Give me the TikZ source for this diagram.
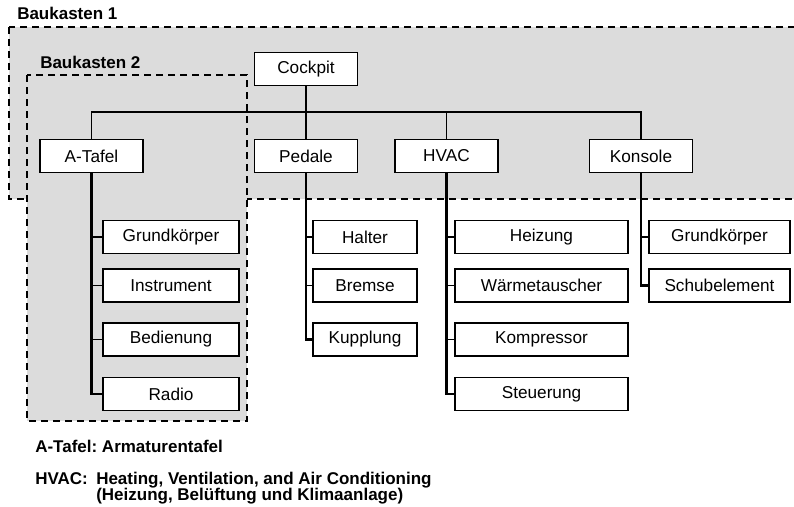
\documentclass[tikz,border=0pt]{standalone}
\usepackage{fontspec}
\setmainfont{Liberation Sans}
\definecolor{kitgray}{RGB}{220,220,220}
\frenchspacing
\begin{document}
\begin{tikzpicture}[x=0.75pt,y=-0.75pt,
  box/.style={draw=black,line width=1.1pt,fill=white,minimum height=24.75pt,
    inner sep=0pt,font=\fontsize{12.9}{15}\selectfont},
  lvtwo/.style={box,minimum width=77.25pt},
  kidA/.style={box,minimum width=102pt},
  kidP/.style={box,minimum width=78pt},
  kidH/.style={box,minimum width=129.75pt},
  kidK/.style={box,minimum width=105.75pt},
  kit/.style={fill=kitgray,draw=black,line width=1.5pt,dash pattern=on 5.25pt off 3.75pt},
  kitlabel/.style={anchor=base west,inner sep=0pt,font=\fontsize{12.75}{14}\bfseries\selectfont},
  note/.style={anchor=base west,inner sep=0pt,font=\fontsize{12.75}{14}\bfseries\selectfont},
  bus/.style={line width=0.8pt},
  spine/.style={line width=1.8pt},
  stub/.style={line width=1.1pt},
  trunk/.style={line width=2.2pt}]
\useasboundingbox (0,0) rectangle (794,507);
\clip (0,0) rectangle (794,507);

% module groups
\draw[kit] (9,27) rectangle (812,199);
\draw[kit] (27,75) rectangle (247,421);
\node[kitlabel] (bk1) at (17,19) {Baukasten 1};
\node[kitlabel] (bk2) at (40,68) {Baukasten 2};

% tree nodes
\node[lvtwo] (cockpit) at (306,69) {Cockpit};
\node[lvtwo] (atafel) at (91.5,156) {A-Tafel};
\node[lvtwo] (pedale) at (306,156) {Pedale};
\node[lvtwo] (hvac) at (446.5,156) {HVAC};
\node[lvtwo] (konsole) at (641,156) {Konsole};

\node[kidA] (a1) at (171,237) {Grundkörper};
\node[kidA] (a2) at (171,285.5) {Instrument};
\node[kidA] (a3) at (171,339.5) {Bedienung};
\node[kidA] (a4) at (171,394) {Radio};

\node[kidP] (p1) at (365,237) {Halter};
\node[kidP] (p2) at (365,285.5) {Bremse};
\node[kidP] (p3) at (365,339.5) {Kupplung};

\node[kidH] (h1) at (541.5,237) {Heizung};
\node[kidH] (h2) at (541.5,285.5) {Wärmetauscher};
\node[kidH] (h3) at (541.5,339.5) {Kompressor};
\node[kidH] (h4) at (541.5,394) {Steuerung};

\node[kidK] (k1) at (719.5,237) {Grundkörper};
\node[kidK] (k2) at (719.5,285.5) {Schubelement};

% connectors of the first level
\coordinate (busy) at (0,112);
\draw[trunk] (cockpit.south) -- (cockpit.south |- busy);
\draw[bus] (atafel.north) |- (konsole.north |- busy) -- (konsole.north);
\draw[bus] (pedale.north) -- (pedale.north |- busy);
\draw[bus] (hvac.north) -- (hvac.north |- busy);

% connectors of the second level
\draw[spine] (atafel.south) -- (atafel.south |- a4.west) -- (a4.west);
\foreach \k in {a1,a2,a3}{\draw[stub] (atafel.south |- \k.west) -- (\k.west);}
\draw[spine] (pedale.south) -- (pedale.south |- p3.west) -- (p3.west);
\foreach \k in {p1,p2}{\draw[stub] (pedale.south |- \k.west) -- (\k.west);}
\draw[spine] (hvac.south) -- (hvac.south |- h4.west) -- (h4.west);
\foreach \k in {h1,h2,h3}{\draw[stub] (hvac.south |- \k.west) -- (\k.west);}
\draw[spine] (konsole.south) -- (konsole.south |- k2.west) -- (k2.west);
\draw[stub] (konsole.south |- k1.west) -- (k1.west);

% abbreviations
\node[note] (n1) at (35,452) {A-Tafel: Armaturentafel};
\node[note] (n2) at (35,484) {HVAC:};
\node[note] (n3) at (96,484) {Heating, Ventilation, and Air Conditioning};
\node[note] (n4) at (96,500) {(Heizung, Belüftung und Klimaanlage)};
\end{tikzpicture}
\end{document}
